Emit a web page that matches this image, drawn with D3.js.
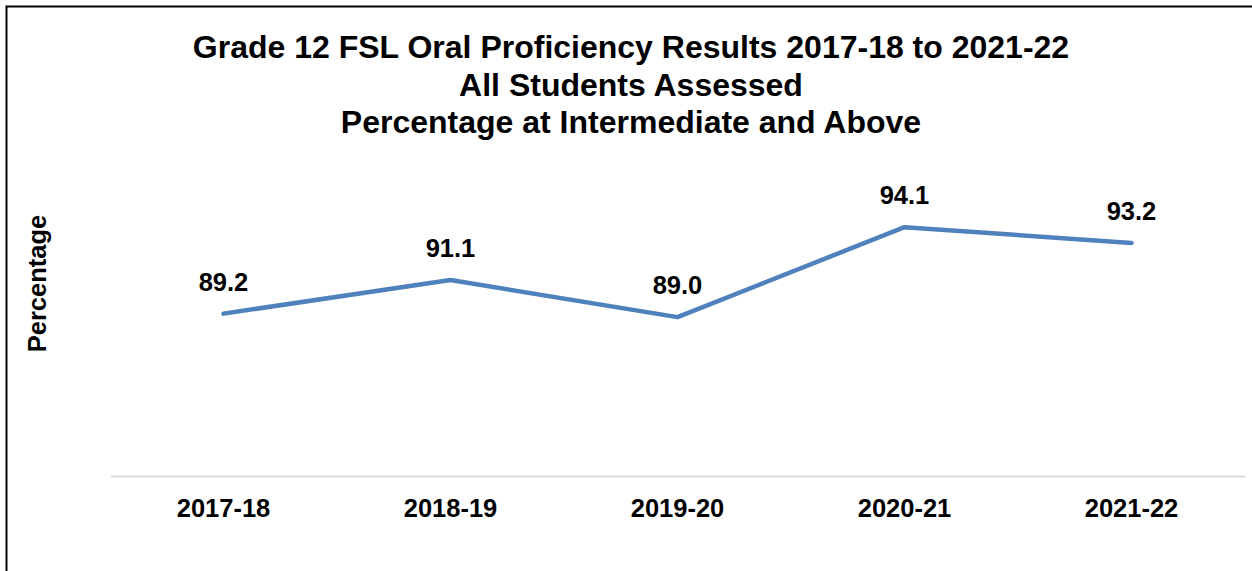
<!DOCTYPE html>
<html>
<head>
<meta charset="utf-8">
<script src="https://cdn.jsdelivr.net/npm/d3@7"></script>
<style>
  body { margin: 0; background: #fff; }
  text { font-family: "Liberation Sans", Arial, sans-serif; font-weight: bold; fill: #000; }
</style>
</head>
<body>
<svg id="chart" width="1252" height="571"></svg>
<script>
const years = ['2017-18', '2018-19', '2019-20', '2020-21', '2021-22'];
const pct = [89.2, 91.1, 89.0, 94.1, 93.2];
const titleLines = [
  'Grade 12 FSL Oral Proficiency Results 2017-18 to 2021-22',
  'All Students Assessed',
  'Percentage at Intermediate and Above'
];
const yDomain = [80, 100];

const svg = d3.select('#chart');
const W = 1252, H = 571;
const plot = {left: 110, right: 1245, top: 123, bottom: 476};

// outer frame (only top and left edges fall inside the picture)
svg.append('rect')
  .attr('x', 6.5).attr('y', 6.5)
  .attr('width', W + 10).attr('height', H + 10)
  .attr('fill', 'none').attr('stroke', '#000').attr('stroke-width', 2);

svg.append('g').selectAll('text').data(titleLines).join('text')
  .attr('x', 631).attr('y', (d, i) => 58 + i * 37.5)
  .attr('text-anchor', 'middle')
  .style('font-size', '32px')
  .text(d => d);

const x = d3.scaleBand().domain(years).range([plot.left, plot.right]);
const y = d3.scaleLinear().domain(yDomain).range([plot.bottom, plot.top]);

const xAxis = svg.append('g')
  .attr('transform', `translate(0,${plot.bottom})`)
  .call(d3.axisBottom(x).tickSize(0).tickPadding(23));
xAxis.select('.domain').attr('stroke', '#d9d9d9').attr('stroke-width', 2);
xAxis.selectAll('text')
  .style('font-size', '25.5px')
  .style('font-family', '"Liberation Sans", Arial, sans-serif')
  .style('font-weight', 'bold')
  .attr('fill', '#000');

svg.append('text')
  .attr('transform', 'translate(46,283.5) rotate(-90)')
  .attr('text-anchor', 'middle')
  .style('font-size', '25.5px')
  .text('Percentage');

const cx = d => x(d) + x.bandwidth() / 2;

const line = d3.line()
  .x((d, i) => cx(years[i]))
  .y(d => y(d));

svg.append('path')
  .datum(pct)
  .attr('d', line)
  .attr('fill', 'none')
  .attr('stroke', '#4f81bd')
  .attr('stroke-width', 4.5)
  .attr('stroke-linecap', 'round')
  .attr('stroke-linejoin', 'round');

svg.append('g').selectAll('text').data(pct).join('text')
  .attr('x', (d, i) => cx(years[i]))
  .attr('y', d => y(d) - 23)
  .attr('text-anchor', 'middle')
  .style('font-size', '25.5px')
  .text(d => d.toFixed(1));
</script>
</body>
</html>
